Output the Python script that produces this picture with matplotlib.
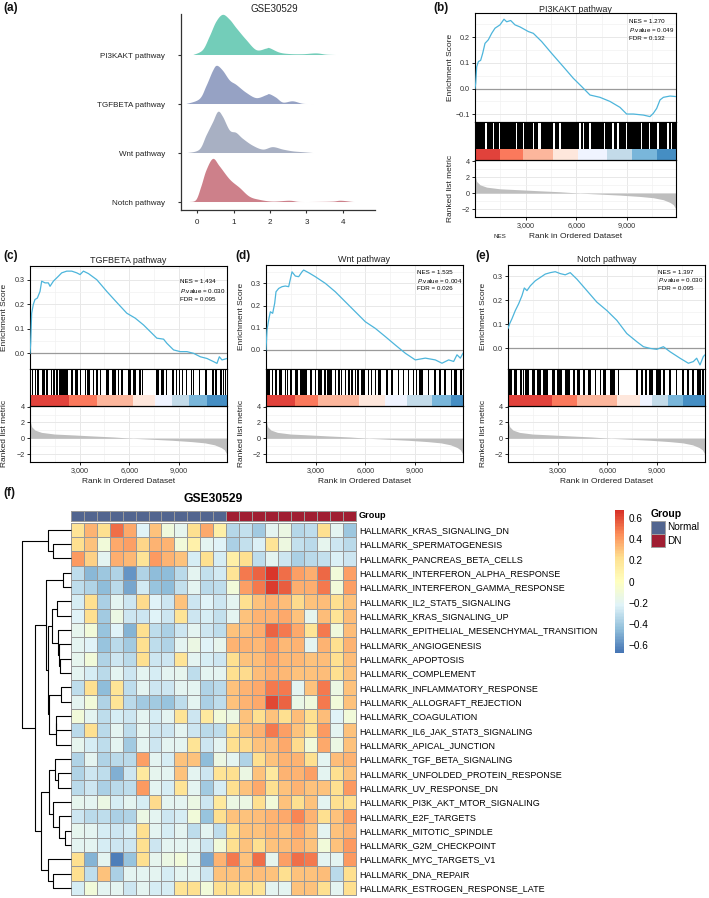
import numpy as np
import matplotlib
matplotlib.use("Agg")
import matplotlib.pyplot as plt
from matplotlib.colors import LinearSegmentedColormap, ListedColormap, Normalize
from matplotlib.patches import Rectangle
from matplotlib.cm import ScalarMappable

plt.rcParams['font.family'] = ['Liberation Sans', 'DejaVu Sans']
plt.rcParams['mathtext.fontset'] = 'custom'
plt.rcParams['mathtext.rm'] = 'Liberation Sans'
plt.rcParams['mathtext.it'] = 'Liberation Sans:italic'

# ====================== DATA ======================
# (a) ridge densities
ridge_names = ["PI3KAKT pathway", "TGFBETA pathway", "Wnt pathway", "Notch pathway"]
ridge_colors = ["#73CDB9", "#96A2C4", "#A8B0C3", "#CD808A"]
pi3k_x = [-0.1, 0.16, 0.35, 0.53, 0.71, 0.9, 1.08, 1.35, 1.63, 1.9, 1.99, 2.26, 2.54, 2.9, 3.27, 3.54, 3.8]
pi3k_d = [0, 0.10, 0.38, 0.68, 0.82, 0.72, 0.55, 0.31, 0.10, 0.13, 0.14, 0.05, 0.02, 0.016, 0.033, 0.008, 0]
tgf_x = [-0.29, 0.07, 0.26, 0.44, 0.55, 0.71, 0.9, 1.08, 1.35, 1.63, 1.9, 1.99, 2.17, 2.36, 2.63, 2.9, 3.18]
tgf_d = [0, 0.10, 0.37, 0.68, 0.78, 0.68, 0.48, 0.39, 0.23, 0.12, 0.18, 0.20, 0.13, 0.03, 0.055, 0.005, 0]
wnt_x = [-0.25, 0.07, 0.26, 0.44, 0.58, 0.71, 0.9, 1.08, 1.26, 1.53, 1.81, 2.08, 2.36, 2.63, 2.9, 3.18]
wnt_d = [0, 0.07, 0.36, 0.63, 0.84, 0.74, 0.46, 0.41, 0.29, 0.15, 0.07, 0.12, 0.07, 0.034, 0.017, 0]
notch_x = [-0.2, -0.02, 0.12, 0.26, 0.44, 0.62, 0.9, 1.17, 1.44, 1.72, 2.08, 2.54, 2.81, 3.3, 3.73, 3.95, 4.27, 4.41]
notch_d = [0, 0.044, 0.32, 0.65, 0.88, 0.73, 0.46, 0.29, 0.11, 0.044, 0.009, 0.026, 0.002, 0.002, 0.009, 0.026, 0.002, 0]
ridge_ticks = [0, 1, 2, 3, 4]

# GSEA shared
N_GENES = 11900
rank_ticks = [3000, 6000, 9000]
rank_ticklabels = ["3,000", "6,000", "9,000"]
metric_rank = [0, 100, 300, 690, 1480, 2664, 3850, 5030, 6215, 7400, 8584, 9770, 10560, 11150, 11547, 11745, 11860, 11900]
metric_val = [2.3, 1.46, 1.04, 0.75, 0.54, 0.42, 0.29, 0.17, 0.0, -0.125, -0.25, -0.42, -0.58, -0.83, -1.17, -1.46, -1.9, -2.1]
bar_colors = ["#DE2D26", "#FB6A4A", "#FCAE91", "#FEE5D9", "#EFF3FF", "#BDD7E7", "#6BAED6", "#3182BD"]

# (b) PI3KAKT
b_title = "PI3KAKT pathway"
b_stats = ["NES = 1.270", "0.049", "FDR = 0.132"]
b_es_rank = [0, 40, 100, 200, 335, 454, 592, 790, 987, 1184, 1480, 1717, 1875, 2112, 2368, 2664, 3157, 3454, 3947, 4539,
             5230, 5822, 6315, 6808, 7400, 7992, 8584, 8979, 9374, 9966, 10360, 10560, 10757, 10955, 11152, 11547, 11900]
b_es = [0.0, 0.02, 0.085, 0.105, 0.11, 0.137, 0.176, 0.19, 0.215, 0.235, 0.248, 0.27, 0.26, 0.265, 0.248, 0.24, 0.222,
        0.215, 0.183, 0.137, 0.085, 0.04, 0.008, -0.025, -0.034, -0.05, -0.073, -0.099, -0.099, -0.103, -0.109, -0.096,
        -0.077, -0.044, -0.034, -0.029, -0.031]
b_hits = [(0, 610), (690, 1045), (1125, 1400), (1480, 2425), (2500, 2820), (2900, 3410), (3490, 3745), (3920, 4630),
          (4710, 4985), (5065, 6170), (6250, 6365), (6445, 6760), (6840, 7645), (7725, 8140), (8220, 8430), (8510, 8925),
          (9005, 9810), (9890, 10305), (10385, 10800), (10880, 11390), (11470, 11585), (11665, 11900)]
b_bar = [0, 1480, 2862, 4638, 6118, 7796, 9276, 10755, 11900]

# (c) TGFBETA
c_title = "TGFBETA pathway"
c_stats = ["NES = 1.434", "0.030", "FDR = 0.095"]
c_es_rank = [0, 40, 100, 200, 300, 444, 605, 706, 908, 1109, 1210, 1412, 1714, 1916, 2219, 2521, 2824, 3025, 3227, 3530,
             4034, 4639, 5244, 5849, 6353, 6858, 7261, 7664, 8068, 8269, 8672, 9076, 9480, 9883, 10287, 10690, 11093,
             11295, 11436, 11597, 11900]
c_es = [0.0, 0.04, 0.164, 0.2, 0.22, 0.226, 0.253, 0.295, 0.288, 0.288, 0.274, 0.295, 0.315, 0.329, 0.336, 0.336, 0.329,
        0.322, 0.336, 0.326, 0.301, 0.253, 0.208, 0.164, 0.144, 0.116, 0.089, 0.062, 0.058, 0.041, 0.014, 0.007, 0.007,
        0.0, -0.014, -0.021, -0.034, -0.041, -0.014, -0.027, -0.021]
c_hits = [(100, 200), (300, 390), (440, 560), (700, 790), (800, 890), (960, 1100), (1240, 1330), (1400, 1500),
          (1600, 1690), (1760, 1850), (1900, 2300), (2500, 2590), (2700, 2900), (3000, 3090), (3300, 3390), (3440, 3600),
          (3800, 3890), (4000, 4090), (4200, 4290), (4600, 4800), (4960, 5050), (5100, 5190), (5300, 5390), (5500, 5590),
          (5900, 6100), (6200, 6400), (6600, 6690), (6760, 6850), (7600, 7800), (7900, 8100), (8200, 8290), (8600, 8690),
          (8800, 8890), (9000, 9090), (9160, 9250), (9400, 9490), (9700, 9790), (9840, 9930), (10200, 10290),
          (10600, 10690), (11000, 11090), (11200, 11290), (11500, 11590), (11640, 11730), (11760, 11850)]
c_bar = [0, 2380, 4034, 6252, 7563, 8572, 9581, 10690, 11900]

# (d) Wnt
d_title = "Wnt pathway"
d_stats = ["NES = 1.535", "0.004", "FDR = 0.026"]
d_es_rank = [0, 60, 161, 262, 403, 524, 604, 765, 966, 1168, 1369, 1571, 1772, 1973, 2175, 2275, 2577, 2980, 3584, 4188,
             4792, 5396, 6000, 6604, 7208, 7812, 8416, 9020, 9624, 10228, 10631, 11034, 11336, 11537, 11738, 11900]
d_es = [0.0, 0.09, 0.135, 0.172, 0.165, 0.21, 0.262, 0.277, 0.285, 0.288, 0.285, 0.352, 0.333, 0.33, 0.352, 0.36, 0.348,
        0.33, 0.3, 0.262, 0.217, 0.172, 0.127, 0.097, 0.06, 0.022, -0.015, -0.045, -0.037, -0.045, -0.06, -0.045, -0.052,
        -0.022, -0.037, -0.015]
d_hits = [(60, 260), (360, 450), (520, 660), (760, 960), (1120, 1210), (1260, 1350), (1460, 1600), (1760, 1960),
          (2060, 2460), (2660, 2750), (2960, 3050), (3160, 3400), (3520, 3610), (3660, 3960), (4160, 4250), (4360, 4450),
          (4520, 4610), (4760, 4850), (4960, 5050), (5160, 5250), (5360, 5450), (5520, 5610), (5760, 6000), (6160, 6250),
          (6320, 6410), (6560, 6650), (6760, 6960), (7260, 7350), (7560, 7650), (7960, 8050), (8260, 8350), (8560, 8650),
          (8860, 8950), (9060, 9150), (9260, 9460), (9760, 9850), (10160, 10250), (10460, 10550), (10760, 10850),
          (11160, 11250), (11360, 11560), (11720, 11810)]
d_bar = [0, 1732, 3141, 5597, 7207, 8516, 10025, 11193, 11900]

# (e) Notch
e_title = "Notch pathway"
e_stats = ["NES = 1.397", "0.030", "FDR = 0.095"]
e_es_rank = [0, 100, 241, 442, 643, 844, 985, 1146, 1347, 1648, 1950, 2251, 2553, 2854, 3156, 3458, 3759, 4161, 4764,
             5367, 5970, 6573, 7176, 7779, 8181, 8583, 8985, 9387, 9789, 10392, 10895, 11196, 11397, 11598, 11799, 11900]
e_es = [0.083, 0.103, 0.124, 0.158, 0.186, 0.22, 0.252, 0.241, 0.261, 0.282, 0.296, 0.31, 0.316, 0.32, 0.312, 0.307,
        0.316, 0.289, 0.241, 0.193, 0.158, 0.117, 0.062, 0.028, 0.007, 0.0, -0.004, 0.007, -0.014, -0.041, -0.062,
        -0.055, -0.041, -0.069, -0.034, -0.027]
e_hits = [(40, 240), (340, 540), (740, 830), (900, 990), (1040, 1240), (1440, 1640), (1740, 1980), (2140, 2440),
          (2640, 2840), (2980, 3240), (3440, 3740), (3940, 4030), (4140, 4340), (4540, 4640), (4840, 5040), (5240, 5330),
          (5540, 5630), (5740, 5940), (6140, 6440), (6640, 6730), (7740, 7830), (8040, 8130), (8300, 8390), (8540, 8740),
          (8940, 9240), (9380, 9470), (9740, 9830), (10140, 10230), (10540, 10630), (10840, 10930), (11140, 11230),
          (11440, 11640), (11740, 11830)]
e_bar = [0, 2653, 4161, 6574, 7980, 8684, 9689, 10594, 11900]

# (f) heatmap
hallmark_sets = ["HALLMARK_KRAS_SIGNALING_DN", "HALLMARK_SPERMATOGENESIS", "HALLMARK_PANCREAS_BETA_CELLS",
                 "HALLMARK_INTERFERON_ALPHA_RESPONSE", "HALLMARK_INTERFERON_GAMMA_RESPONSE",
                 "HALLMARK_IL2_STAT5_SIGNALING", "HALLMARK_KRAS_SIGNALING_UP",
                 "HALLMARK_EPITHELIAL_MESENCHYMAL_TRANSITION", "HALLMARK_ANGIOGENESIS", "HALLMARK_APOPTOSIS",
                 "HALLMARK_COMPLEMENT", "HALLMARK_INFLAMMATORY_RESPONSE", "HALLMARK_ALLOGRAFT_REJECTION",
                 "HALLMARK_COAGULATION", "HALLMARK_IL6_JAK_STAT3_SIGNALING", "HALLMARK_APICAL_JUNCTION",
                 "HALLMARK_TGF_BETA_SIGNALING", "HALLMARK_UNFOLDED_PROTEIN_RESPONSE", "HALLMARK_UV_RESPONSE_DN",
                 "HALLMARK_PI3K_AKT_MTOR_SIGNALING", "HALLMARK_E2F_TARGETS", "HALLMARK_MITOTIC_SPINDLE",
                 "HALLMARK_G2M_CHECKPOINT", "HALLMARK_MYC_TARGETS_V1", "HALLMARK_DNA_REPAIR",
                 "HALLMARK_ESTROGEN_RESPONSE_LATE"]
sample_groups = ["Normal"] * 12 + ["DN"] * 10
group_levels = ["Normal", "DN"]
group_colors = ["#52658F", "#A01E32"]
gsva_scores = [
    [0.2, 0.35, 0.22, 0.52, 0.38, -0.22, 0.3, -0.12, -0.18, 0.22, 0.38, 0.12, -0.35, -0.3, -0.4, -0.2, -0.14, -0.35, -0.32, 0.22, -0.2, -0.42],
    [0.22, 0.3, -0.1, 0.37, 0.4, 0.25, 0.35, 0.35, -0.1, 0.1, -0.2, -0.22, -0.38, -0.3, -0.24, 0.2, -0.13, -0.3, -0.34, -0.18, -0.28, -0.33],
    [0.42, 0.27, -0.2, 0.36, 0.33, 0.2, 0.42, 0.35, 0.3, -0.25, 0.22, -0.25, 0.12, 0.23, -0.32, -0.2, -0.28, -0.38, -0.34, -0.3, -0.24, -0.28],
    [-0.32, -0.47, -0.42, -0.36, -0.58, -0.36, -0.45, -0.45, -0.34, -0.2, -0.3, -0.26, 0.2, 0.5, 0.55, 0.66, 0.53, 0.4, 0.36, 0.54, -0.1, 0.4],
    [-0.32, -0.36, -0.45, -0.34, -0.52, -0.26, -0.43, -0.45, -0.3, -0.2, -0.34, -0.32, -0.1, 0.4, 0.5, 0.64, 0.56, 0.36, 0.36, 0.5, -0.1, 0.4],
    [-0.25, 0.22, -0.38, -0.2, -0.28, 0.24, -0.22, -0.28, 0.3, -0.28, -0.22, -0.28, -0.2, 0.22, 0.3, 0.35, 0.32, 0.24, 0.3, 0.32, 0.22, 0.3],
    [-0.22, 0.22, -0.4, -0.14, -0.28, -0.28, -0.22, -0.28, 0.2, -0.28, -0.25, -0.3, -0.2, 0.3, 0.35, 0.35, 0.37, 0.3, -0.18, 0.32, 0.2, 0.32],
    [-0.18, -0.1, -0.43, -0.22, -0.48, 0.22, -0.32, -0.38, -0.28, -0.2, -0.28, -0.32, 0.3, 0.32, 0.36, 0.55, 0.5, 0.38, 0.2, 0.5, -0.12, 0.32],
    [-0.2, -0.22, -0.43, -0.34, -0.4, 0.22, -0.32, -0.36, -0.2, -0.14, -0.22, -0.18, 0.35, 0.35, 0.33, 0.4, 0.33, 0.35, -0.2, 0.35, 0.22, 0.35],
    [-0.18, -0.1, -0.36, -0.28, -0.34, 0.22, -0.28, -0.28, 0.2, -0.2, -0.25, -0.28, 0.22, 0.3, 0.32, 0.38, 0.33, 0.33, 0.3, 0.32, 0.22, 0.32],
    [-0.2, -0.25, -0.34, -0.2, -0.28, -0.2, -0.25, -0.2, -0.18, -0.32, -0.2, -0.2, 0.22, 0.24, 0.32, 0.35, 0.33, 0.3, 0.3, 0.32, 0.22, 0.3],
    [-0.32, 0.22, -0.45, 0.2, -0.32, -0.2, -0.28, -0.28, -0.2, -0.2, -0.36, -0.34, 0.3, 0.35, 0.38, 0.5, 0.5, -0.2, 0.3, 0.5, -0.14, 0.3],
    [-0.2, -0.1, -0.36, 0.2, -0.34, -0.4, -0.4, -0.43, -0.32, -0.2, -0.38, -0.32, 0.3, 0.35, 0.38, 0.62, 0.55, -0.15, -0.12, 0.5, -0.1, 0.3],
    [-0.1, -0.2, -0.32, -0.25, -0.28, -0.2, -0.25, -0.2, 0.2, -0.28, 0.15, -0.1, -0.14, 0.3, 0.22, 0.3, 0.22, 0.32, 0.22, 0.32, -0.22, -0.1],
    [-0.34, 0.22, -0.34, -0.2, -0.32, -0.2, -0.28, -0.28, -0.2, -0.28, -0.34, -0.32, 0.22, 0.3, 0.35, 0.5, 0.4, 0.3, 0.22, 0.42, -0.2, 0.3],
    [-0.18, -0.25, -0.32, -0.2, -0.4, -0.2, -0.28, -0.2, -0.2, 0.2, -0.28, -0.2, 0.22, 0.24, 0.3, 0.32, 0.38, 0.24, -0.1, 0.38, -0.14, 0.3],
    [-0.36, -0.2, -0.36, -0.34, -0.34, 0.4, -0.2, -0.25, 0.3, 0.3, -0.45, -0.14, -0.2, -0.36, 0.22, 0.3, 0.35, 0.35, 0.22, -0.2, 0.32, 0.35],
    [-0.36, -0.28, -0.32, -0.5, -0.28, 0.15, -0.18, -0.2, 0.3, -0.2, -0.28, 0.2, 0.22, -0.14, 0.3, 0.15, 0.35, 0.35, 0.4, -0.2, 0.22, 0.3],
    [-0.34, -0.28, -0.38, -0.34, -0.32, 0.42, -0.2, -0.25, 0.2, -0.2, -0.4, -0.25, 0.22, 0.3, 0.38, 0.22, 0.3, 0.35, 0.3, 0.3, 0.22, 0.42],
    [-0.18, -0.2, -0.14, -0.25, -0.2, -0.25, 0.24, -0.2, -0.2, -0.14, -0.28, 0.15, -0.14, -0.14, 0.22, -0.1, 0.3, 0.22, 0.3, -0.2, 0.22, 0.22],
    [-0.28, -0.34, -0.32, -0.38, -0.36, -0.14, -0.2, -0.28, -0.25, -0.1, -0.43, 0.22, 0.3, 0.3, 0.32, 0.35, 0.38, 0.47, 0.35, 0.22, 0.3, 0.42],
    [-0.18, -0.2, -0.25, -0.28, -0.25, 0.22, -0.2, -0.25, -0.2, -0.32, -0.2, -0.32, 0.22, 0.3, 0.3, 0.33, 0.3, 0.38, 0.3, -0.2, 0.3, 0.35],
    [-0.2, -0.2, -0.25, -0.28, -0.28, 0.22, -0.28, -0.2, -0.2, -0.2, -0.28, -0.1, 0.22, 0.3, 0.22, 0.3, 0.32, 0.35, 0.3, -0.1, 0.3, 0.42],
    [0.22, -0.48, -0.2, -0.65, -0.43, 0.22, -0.18, -0.14, -0.1, -0.2, -0.52, 0.35, 0.5, 0.3, 0.53, -0.18, 0.4, 0.53, 0.5, -0.2, -0.2, 0.42],
    [0.22, -0.32, 0.3, -0.38, -0.2, -0.2, -0.2, -0.25, -0.2, -0.2, -0.28, 0.3, 0.3, 0.3, 0.32, 0.3, 0.22, 0.3, 0.3, 0.32, -0.34, 0.22],
    [-0.25, -0.1, -0.2, -0.2, -0.28, -0.2, -0.25, -0.25, 0.2, 0.22, -0.1, 0.22, 0.22, 0.22, 0.2, -0.2, -0.2, 0.3, 0.3, 0.22, -0.2, 0.22],
]
# row dendrogram merges: (child_a, child_b, height); leaves 0..25, merged nodes 26..
row_linkage = [
    (21, 22, 18), (3, 4, 25), (11, 12, 30), (9, 10, 32), (20, 26, 35), (8, 29, 37), (7, 31, 40), (5, 6, 43),
    (17, 18, 40), (16, 34, 47), (13, 14, 45), (36, 15, 46), (1, 2, 55), (0, 38, 70), (24, 25, 55), (23, 40, 70),
    (19, 30, 55), (35, 42, 65), (43, 41, 90), (33, 32, 57), (28, 37, 65), (45, 46, 69), (27, 47, 77), (48, 44, 110),
    (39, 49, 150)]
score_ticks = [-0.6, -0.4, -0.2, 0, 0.2, 0.4, 0.6]
score_ticklabels = ["\u22120.6", "\u22120.4", "\u22120.2", "0", "0.2", "0.4", "0.6"]
score_range = (-0.68, 0.68)

# ====================== FIGURE ======================
W, H = 709, 898
fig = plt.figure(figsize=(W / 100, H / 100), dpi=100, facecolor='white')


def ax_px(l, t, r, b):
    return fig.add_axes([l / W, 1 - b / H, (r - l) / W, (b - t) / H])


def ftext(x, y, s, **kw):
    return fig.text(x / W, 1 - y / H, s, **kw)


def catmull(x, y, n=10):
    pts = np.column_stack([x, y]).astype(float)
    P = np.vstack([pts[0], pts, pts[-1]])
    out = []
    t = np.linspace(0, 1, n, endpoint=False)[:, None]
    for i in range(1, len(P) - 2):
        p0, p1, p2, p3 = P[i - 1], P[i], P[i + 1], P[i + 2]
        seg = 0.5 * ((2 * p1) + (-p0 + p2) * t + (2 * p0 - 5 * p1 + 4 * p2 - p3) * t ** 2
                     + (-p0 + 3 * p1 - 3 * p2 + p3) * t ** 3)
        out.append(seg)
    out.append(pts[-1][None])
    res = np.vstack(out)
    return res[:, 0], np.clip(res[:, 1], 0, None)


# ---------- (a) ridges ----------
axa = ax_px(181, 14, 375, 210)
ridge_xs = [pi3k_x, tgf_x, wnt_x, notch_x]
ridge_ds = [pi3k_d, tgf_d, wnt_d, notch_d]
nR = len(ridge_names)
for i in range(nR):
    base = nR - 1 - i
    sx, sy = catmull(ridge_xs[i], ridge_ds[i])
    axa.fill(np.r_[sx, sx[::-1]], np.r_[base + sy, np.full_like(sy, base)], color=ridge_colors[i], lw=0)
axa.set_xlim(-0.44, 4.88)
axa.set_ylim(-0.163, (202 - 14) / 49)
axa.set_yticks([nR - 1 - i for i in range(nR)])
axa.set_yticklabels(ridge_names)
axa.set_xticks(ridge_ticks)
axa.set_xticklabels([str(v) for v in ridge_ticks])
for s in ['top', 'right']:
    axa.spines[s].set_visible(False)
for s in ['left', 'bottom']:
    axa.spines[s].set_color('#333333')
    axa.spines[s].set_linewidth(0.9)
axa.tick_params(length=2.5, width=0.8, color='#333333', labelsize=5.8, labelcolor='#222222')
axa.tick_params(axis='y', pad=9)
axa.tick_params(axis='x', pad=4)
ftext(274, 8.5, "GSE30529", ha='center', va='center', fontsize=7, color='#222222')

# ---------- GSEA panels ----------
def gsea_panel(l, r, es_top, es_bot, rk_top, rk_bot, es_ylim, es_ticks, rk_ylim,
               title, title_y, stats, stats_x, stats_y, es_rank, es_val, hits, bar_bounds, xlab_y):
    # running ES
    ax1 = ax_px(l, es_top, r, es_bot)
    ax1.set_xlim(0, N_GENES)
    ax1.set_ylim(*es_ylim)
    ax1.set_xticks(rank_ticks)
    ax1.set_xticks([1500, 4500, 7500, 10500], minor=True)
    ax1.set_yticks(es_ticks)
    ax1.set_yticks([v + 0.05 for v in es_ticks], minor=True)
    ax1.grid(which='major', color='#E8E8E8', lw=0.7)
    ax1.grid(which='minor', color='#F1F1F1', lw=0.5)
    ax1.set_axisbelow(True)
    ax1.axhline(0, color='#9A9A9A', lw=0.9, zorder=2)
    ax1.plot(es_rank, es_val, color='#4DB5DB', lw=0.9, zorder=3)
    ax1.tick_params(axis='x', which='both', length=0, labelbottom=False)
    ax1.tick_params(axis='y', which='minor', length=0)
    ax1.tick_params(axis='y', which='major', length=2, width=0.6, labelsize=5.2, labelcolor='#333333', pad=1.5)
    ax1.set_yticklabels(["\u22120.1" if v < 0 else f"{v:.1f}" for v in es_ticks])
    for s in ax1.spines.values():
        s.set_color('black'); s.set_linewidth(0.8)
    # hits + colour bar
    ax2 = ax_px(l, es_bot, r, rk_top)
    ax2.set_xlim(0, N_GENES)
    ax2.set_ylim(0, 1)
    bar_h = 0.3
    for (s0, s1) in hits:
        ax2.add_patch(Rectangle((s0, bar_h), s1 - s0, 1 - bar_h, facecolor='black', lw=0))
    for k in range(len(bar_bounds) - 1):
        ax2.add_patch(Rectangle((bar_bounds[k], 0), bar_bounds[k + 1] - bar_bounds[k], bar_h,
                                facecolor=bar_colors[k], alpha=0.9, lw=0))
    ax2.set_xticks([]); ax2.set_yticks([])
    for s in ax2.spines.values():
        s.set_color('black'); s.set_linewidth(0.8)
    # ranked list metric
    ax3 = ax_px(l, rk_top, r, rk_bot)
    ax3.set_xlim(0, N_GENES)
    ax3.set_ylim(*rk_ylim)
    ax3.set_xticks(rank_ticks)
    ax3.set_xticklabels(rank_ticklabels)
    ax3.set_xticks([1500, 4500, 7500, 10500], minor=True)
    ax3.set_yticks([-2, 0, 2, 4])
    ax3.set_yticklabels(["\u22122", "0", "2", "4"])
    ax3.set_yticks([-3, -1, 1, 3], minor=True)
    ax3.grid(which='major', color='#E8E8E8', lw=0.7)
    ax3.grid(which='minor', color='#F1F1F1', lw=0.5)
    ax3.set_axisbelow(True)
    ax3.fill_between(metric_rank, 0, metric_val, color='#BEBEBE', lw=0, zorder=2)
    ax3.tick_params(which='minor', length=0)
    ax3.tick_params(which='major', length=2, width=0.6, labelsize=5.2, labelcolor='#333333', pad=1.5)
    for s in ax3.spines.values():
        s.set_color('black'); s.set_linewidth(0.8)
    # labels
    ftext((l + r) / 2, title_y, title, ha='center', va='center', fontsize=6.5, color='#222222')
    ftext(l - 25, (es_top + es_bot) / 2, "Enrichment Score", rotation=90, ha='center', va='center',
          fontsize=6, color='#222222')
    ftext(l - 25, (rk_top + rk_bot) / 2, "Ranked list metric", rotation=90, ha='center', va='center',
          fontsize=6, color='#222222')
    ftext((l + r) / 2, xlab_y, "Rank in Ordered Dataset", ha='center', va='center', fontsize=6, color='#222222')
    ftext(stats_x, stats_y[0], stats[0], ha='left', va='center', fontsize=4.5)
    ftext(stats_x, stats_y[1], r"$\it{P}$.value = " + stats[1], ha='left', va='center', fontsize=4.5)
    ftext(stats_x, stats_y[2], stats[2], ha='left', va='center', fontsize=4.5)


gsea_panel(475, 676, 13.3, 122, 160, 217, (-0.13, 0.293), [-0.1, 0.0, 0.1, 0.2], (-2.96, 4.16),
           b_title, 9, b_stats, 629, [21.7, 30, 38.3], b_es_rank, b_es, b_hits, b_bar, 236)
gsea_panel(30, 227, 266, 369, 405.5, 462, (-0.064, 0.357), [0.0, 0.1, 0.2, 0.3], (-3.0, 4.15),
           c_title, 260.5, c_stats, 180, [281.7, 290.7, 299.3], c_es_rank, c_es, c_hits, c_bar, 481)
gsea_panel(266, 463, 264.5, 369, 405.5, 462, (-0.086, 0.385), [0.0, 0.1, 0.2, 0.3], (-3.0, 4.15),
           d_title, 260, d_stats, 417, [272.7, 280.7, 288.7], d_es_rank, d_es, d_hits, d_bar, 481)
gsea_panel(508, 705, 264.5, 369, 405.5, 462, (-0.086, 0.346), [0.0, 0.1, 0.2, 0.3], (-3.0, 4.15),
           e_title, 260, e_stats, 658, [272.3, 280.3, 289], e_es_rank, e_es, e_hits, e_bar, 481)
ftext(500, 236, "NES", ha='center', va='center', fontsize=4.5, color='#222222')

# ---------- panel letters ----------
for lab, x, y in [("(a)", 3, 8), ("(b)", 433, 8), ("(c)", 3, 256), ("(d)", 235, 256), ("(e)", 475, 256), ("(f)", 3, 493)]:
    ftext(x, y, lab, ha='left', va='center', fontsize=8.5, fontweight='bold', color='#111111')

# ---------- (f) heatmap ----------
cmap = LinearSegmentedColormap.from_list(
    "rdylbu_r", ["#4575B4", "#91BFDB", "#E0F3F8", "#FFFFBF", "#FEE090", "#FC8D59", "#D73027"], N=100)
norm = Normalize(vmin=score_range[0], vmax=score_range[1])
M = np.array(gsva_scores)
nrow, ncol = M.shape
hx0, hx1, hy0, hy1 = 70.7, 356, 522.7, 895
axh = ax_px(hx0, hy0, hx1, hy1)
mesh = axh.pcolormesh(np.arange(ncol + 1), np.arange(nrow + 1), M, cmap=cmap, norm=norm,
                      edgecolors='#999999', linewidth=0.7)
mesh.set_clip_on(False)
axh.set_xlim(0, ncol); axh.set_ylim(nrow, 0)
for s in axh.spines.values():
    s.set_visible(False)
axh.set_xticks([])
axh.yaxis.tick_right()
axh.set_yticks(np.arange(nrow) + 0.5)
axh.set_yticklabels(hallmark_sets)
axh.tick_params(axis='y', length=0, labelsize=6.5, pad=2.5, labelcolor='black')

# group annotation
axg = ax_px(hx0, 511, hx1, 520.5)
gcodes = np.array([[group_levels.index(g) for g in sample_groups]])
gm = axg.pcolormesh(np.arange(ncol + 1), [0, 1], gcodes, cmap=ListedColormap(group_colors), vmin=-0.5, vmax=1.5,
                    edgecolors='#999999', linewidth=0.7)
gm.set_clip_on(False)
axg.set_xlim(0, ncol); axg.set_ylim(1, 0)
axg.set_xticks([]); axg.set_yticks([])
for s in axg.spines.values():
    s.set_visible(False)
ftext(358.5, 516, "Group", ha='left', va='center', fontsize=6.6, fontweight='bold')
ftext((hx0 + hx1) / 2, 499, "GSE30529", ha='center', va='center', fontsize=8.7, fontweight='bold')

# dendrogram
axd = ax_px(21.7, hy0, hx0, hy1)
pos = {i: i + 0.5 for i in range(nrow)}
hgt = {i: 0.0 for i in range(nrow)}
for k, (a, b, hh) in enumerate(row_linkage):
    node = nrow + k
    axd.plot([hgt[a], hh, hh, hgt[b]], [pos[a], pos[a], pos[b], pos[b]], color='black', lw=0.8,
             solid_capstyle='butt', clip_on=False)
    pos[node] = (pos[a] + pos[b]) / 2
    hgt[node] = hh
axd.set_xlim(150, 0); axd.set_ylim(nrow, 0)
axd.axis('off')

# colorbar
axcb = ax_px(615, 510, 624, 653)
cb = fig.colorbar(ScalarMappable(norm=norm, cmap=cmap), cax=axcb)
cb.outline.set_visible(False)
cb.set_ticks(score_ticks)
cb.set_ticklabels(score_ticklabels)
axcb.tick_params(length=0, labelsize=7.2, pad=3)

# group legend
ftext(650.5, 514, "Group", ha='left', va='center', fontsize=7.5, fontweight='bold')
for k, (lab, col) in enumerate(zip(group_levels, group_colors)):
    y0 = 520.7 + k * 13.3
    fig.add_artist(Rectangle((650.5 / W, 1 - (y0 + 13.3) / H), 14 / W, 13.3 / H, transform=fig.transFigure,
                             facecolor=col, edgecolor='#A0A0A0', lw=0.7))
    ftext(667, y0 + 6.6, lab, ha='left', va='center', fontsize=7.2)

fig.savefig("out.png", dpi=100, facecolor='white')
